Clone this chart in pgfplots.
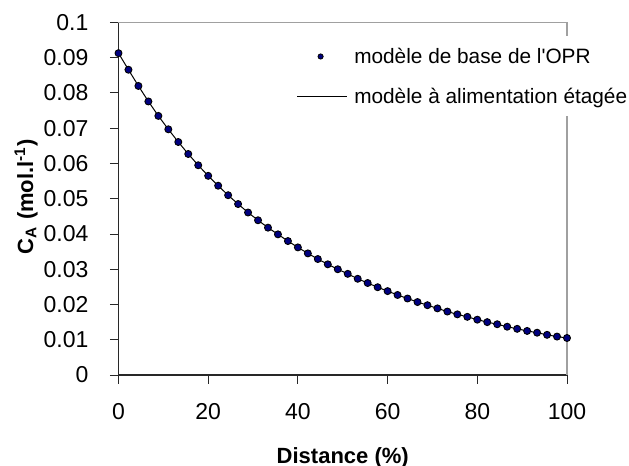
\documentclass[border=0pt]{standalone}
\usepackage{fontspec}
\setmainfont{Liberation Sans}
\usepackage{pgfplots}
\pgfplotsset{compat=1.18}
\definecolor{navy}{RGB}{0,0,128}
\definecolor{bordergray}{RGB}{160,160,160}
\definecolor{axisdark}{RGB}{40,40,40}
\begin{document}
\begin{tikzpicture}
\begin{axis}[
  at={(0,0)}, anchor=south west,
  scale only axis,
  width=224.25bp, height=176.25bp,
  xmin=0, xmax=100, ymin=0, ymax=0.1,
  axis lines=left,
  axis line style={-, axisdark, line width=0.6bp},
  clip=false,
  tick align=outside,
  major tick length=4.25bp,
  tick style={axisdark, line width=0.5bp},
  xtick={0,20,40,60,80,100},
  ytick={0,0.01,0.02,0.03,0.04,0.05,0.06,0.07,0.08,0.09,0.1},
  yticklabels={0,0.01,0.02,0.03,0.04,0.05,0.06,0.07,0.08,0.09,0.1},
  /pgf/number format/assume math mode=true,
  tick label style={font=\fontsize{11.5bp}{13bp}\selectfont, inner sep=0pt},
  xticklabel style={anchor=north, yshift=-9.9bp},
  yticklabel style={anchor=east, xshift=-10.6bp},
  xlabel={\textbf{Distance (\%)}},
  ylabel={\textbf{C\textsubscript{A} (mol.l\textsuperscript{-1})}},
  label style={font=\fontsize{11bp}{13bp}\selectfont},
  x label style={at={(axis description cs:0.5,-0.2335)}, anchor=center},
  y label style={at={(axis description cs:-0.206,0.506)}, anchor=center},
  legend style={at={(rel axis cs:0.3973,0.9603)}, anchor=north west,
    draw=none, fill=white, inner xsep=0pt, inner ysep=4bp, outer sep=0pt,
    row sep=8bp, column sep=3.3bp,
    font=\fontsize{10.4bp}{13bp}\selectfont,
    nodes={inner sep=0pt, text height=9.3bp, text depth=2.7bp}},
  legend cell align=left,
]
% ligne : modèle à alimentation étagée
\addplot[black, line width=0.5bp, forget plot] coordinates {
(0,0.0913)(2.222,0.0866)(4.444,0.0820)(6.667,0.0776)(8.889,0.0735)
(11.111,0.0697)(13.333,0.0661)(15.556,0.0627)(17.778,0.0595)(20,0.0565)
(22.222,0.0537)(24.444,0.0510)(26.667,0.0485)(28.889,0.0461)(31.111,0.0439)
(33.333,0.0418)(35.556,0.0399)(37.778,0.0380)(40,0.0362)(42.222,0.0345)
(44.444,0.0329)(46.667,0.0314)(48.889,0.0300)(51.111,0.0287)(53.333,0.0273)
(55.556,0.0261)(57.778,0.0249)(60,0.0238)(62.222,0.0227)(64.444,0.0217)
(66.667,0.0207)(68.889,0.0198)(71.111,0.0189)(73.333,0.0180)(75.556,0.0172)
(77.778,0.0165)(80,0.0157)(82.222,0.0150)(84.444,0.0144)(86.667,0.0137)
(88.889,0.0131)(91.111,0.0125)(93.333,0.0120)(95.556,0.0114)(97.778,0.0109)
(100,0.0105)
};
% points : modèle de base de l'OPR
\addplot[only marks, mark=*, mark size=1.75bp,
  mark options={fill=navy, draw=black, line width=0.45bp},
  legend image code/.code={\path[draw=none] (0bp,0bp) -- (25bp,0bp);
     \draw[draw=none, mark size=1.3bp, mark options={fill=navy, draw=black, line width=0.4bp}] plot[mark=*] coordinates {(11.7bp,0bp)};}
] coordinates {
(0,0.0913)(2.222,0.0866)(4.444,0.0820)(6.667,0.0776)(8.889,0.0735)
(11.111,0.0697)(13.333,0.0661)(15.556,0.0627)(17.778,0.0595)(20,0.0565)
(22.222,0.0537)(24.444,0.0510)(26.667,0.0485)(28.889,0.0461)(31.111,0.0439)
(33.333,0.0418)(35.556,0.0399)(37.778,0.0380)(40,0.0362)(42.222,0.0345)
(44.444,0.0329)(46.667,0.0314)(48.889,0.0300)(51.111,0.0287)(53.333,0.0273)
(55.556,0.0261)(57.778,0.0249)(60,0.0238)(62.222,0.0227)(64.444,0.0217)
(66.667,0.0207)(68.889,0.0198)(71.111,0.0189)(73.333,0.0180)(75.556,0.0172)
(77.778,0.0165)(80,0.0157)(82.222,0.0150)(84.444,0.0144)(86.667,0.0137)
(88.889,0.0131)(91.111,0.0125)(93.333,0.0120)(95.556,0.0114)(97.778,0.0109)
(100,0.0105)
};
\addlegendentry{modèle de base de l\textquotesingle OPR}
\addlegendimage{black, line width=0.5bp,
  legend image code/.code={\draw[black, line width=0.5bp] (0bp,0bp) -- (25bp,0bp);}}
\addlegendentry{modèle à alimentation étagée}
\draw[bordergray, line width=0.6bp] (rel axis cs:0,1) -- (rel axis cs:1,1) -- (rel axis cs:1,0);
\end{axis}
\pgfresetboundingbox
\path (-59.25bp,-45.5bp) rectangle (255.25bp,187.5bp);
\end{tikzpicture}
\end{document}
